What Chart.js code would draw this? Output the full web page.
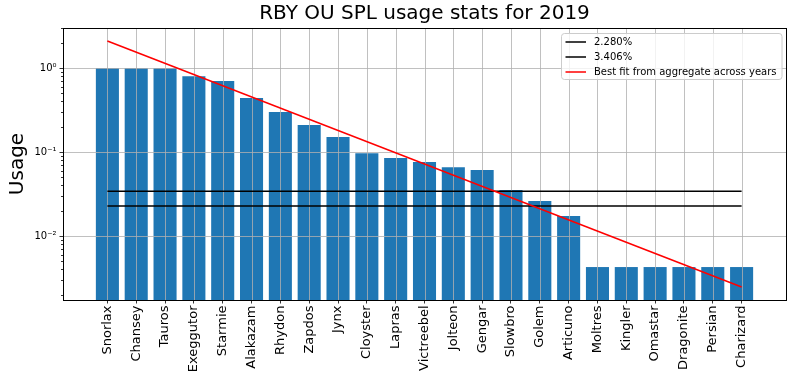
<!DOCTYPE html>
<html>
<head>
<meta charset="utf-8">
<script src="https://cdn.jsdelivr.net/npm/chart.js@4.4.1/dist/chart.umd.min.js"></script>
<style>
  body { margin: 0; background: #fff; }
  #wrap { width: 794px; height: 376px; position: relative; }
</style>
</head>
<body>
<div id="wrap"><canvas id="usage"></canvas></div>
<script>
// data
const pokemon = ['Snorlax', 'Chansey', 'Tauros', 'Exeggutor', 'Starmie', 'Alakazam', 'Rhydon', 'Zapdos',
  'Jynx', 'Cloyster', 'Lapras', 'Victreebel', 'Jolteon', 'Gengar', 'Slowbro', 'Golem', 'Articuno',
  'Moltres', 'Kingler', 'Omastar', 'Dragonite', 'Persian', 'Charizard'];
const usage = [1.0, 1.0, 1.0, 0.80, 0.70, 0.44, 0.30, 0.21, 0.151, 0.097, 0.085, 0.076, 0.066, 0.061,
  0.0353, 0.0261, 0.0173, 0.00427, 0.00427, 0.00427, 0.00427, 0.00427, 0.00427];
const thresholdLabels = ['2.280%', '3.406%'];
const thresholdValues = [0.02280, 0.03406];
const fitLabel = 'Best fit from aggregate across years';
const fitEnds = [2.10, 0.00247]; // fit line at first and last bar

const FONT = "'DejaVu Sans', sans-serif";
const last = pokemon.length - 1;

function isDecade(v) {
  const l = Math.log10(v);
  return Math.abs(l - Math.round(l)) < 1e-9;
}
function supText(n) {
  const map = { '-': '\u207B', '0': '\u2070', '1': '\u00B9', '2': '\u00B2', '3': '\u00B3' };
  return String(n).split('').map(c => map[c] || c).join('');
}

// grid above the bars but under the lines, like matplotlib
const gridOverBars = {
  id: 'gridOverBars',
  afterDatasetDraw(chart, args) {
    if (args.index !== 0) return;
    const { ctx, chartArea: a, scales } = chart;
    ctx.save();
    ctx.strokeStyle = '#b0b0b0';
    ctx.lineWidth = 0.8;
    ctx.beginPath();
    pokemon.forEach((_, i) => {
      const x = Math.round(scales.x.getPixelForValue(i)) + 0.5;
      ctx.moveTo(x, a.top); ctx.lineTo(x, a.bottom);
    });
    [1, 0.1, 0.01].forEach(v => {
      const y = Math.round(scales.y.getPixelForValue(v)) + 0.5;
      ctx.moveTo(a.left, y); ctx.lineTo(a.right, y);
    });
    ctx.stroke();
    ctx.restore();
  }
};

// frame, minor log ticks, title and legend box
const frameAndLegend = {
  id: 'frameAndLegend',
  afterDatasetsDraw(chart) {
    const { ctx, chartArea: a, scales } = chart;
    ctx.save();
    // minor ticks
    ctx.strokeStyle = '#000';
    ctx.lineWidth = 0.8;
    ctx.beginPath();
    for (let d = -3; d <= 0; d++) {
      for (let k = 2; k <= 9; k++) {
        const v = k * Math.pow(10, d);
        if (v < scales.y.min || v > scales.y.max) continue;
        const y = Math.round(scales.y.getPixelForValue(v)) + 0.5;
        ctx.moveTo(a.left - 2, y); ctx.lineTo(a.left, y);
      }
    }
    ctx.stroke();
    // frame
    ctx.strokeStyle = '#000';
    ctx.lineWidth = 1;
    ctx.strokeRect(Math.round(a.left) + 0.5, Math.round(a.top) + 0.5,
      Math.round(a.right - a.left), Math.round(a.bottom - a.top));

    // legend
    const fs = 10;
    ctx.font = fs + 'px ' + FONT;
    const items = chart.data.datasets.filter(ds => ds.type === 'line');
    const tw = Math.max(...items.map(ds => ctx.measureText(ds.label).width));
    const w = 33 + tw + 5;
    const h = 46;
    const x0 = Math.round(a.right - 4 - w);
    const y0 = Math.round(a.top + 5);
    ctx.beginPath();
    ctx.roundRect(x0 + 0.5, y0 + 0.5, w, h, 3);
    ctx.fillStyle = 'rgba(255,255,255,0.8)';
    ctx.fill();
    ctx.strokeStyle = '#cccccc';
    ctx.lineWidth = 1;
    ctx.stroke();
    items.forEach((ds, i) => {
      const y = y0 + 9 + i * 15;
      ctx.strokeStyle = ds.borderColor;
      ctx.lineWidth = 1.5;
      ctx.beginPath();
      ctx.moveTo(x0 + 4.5, y); ctx.lineTo(x0 + 25, y);
      ctx.stroke();
      ctx.fillStyle = '#000';
      ctx.textBaseline = 'middle';
      ctx.textAlign = 'left';
      ctx.fillText(ds.label, x0 + 33, y + 0.5);
    });
    ctx.restore();
  }
};

const datasets = [{
  type: 'bar',
  data: usage.map((v, i) => ({ x: i, y: v })),
  backgroundColor: '#1f77b4',
  barPercentage: 0.8,
  categoryPercentage: 1.0,
  order: 5
}];
thresholdValues.forEach((v, i) => {
  datasets.push({
    type: 'line',
    label: thresholdLabels[i],
    data: [{ x: 0, y: v }, { x: last, y: v }],
    borderColor: '#000000',
    borderWidth: 1.5,
    pointRadius: 0,
    order: 2
  });
});
datasets.push({
  type: 'line',
  label: fitLabel,
  data: [{ x: 0, y: fitEnds[0] }, { x: last, y: fitEnds[1] }],
  borderColor: '#ff0000',
  borderWidth: 1.5,
  pointRadius: 0,
  order: 1
});

Chart.defaults.font.family = FONT;
Chart.defaults.color = '#000';

new Chart(document.getElementById('usage'), {
  data: { datasets },
  options: {
    responsive: true,
    maintainAspectRatio: false,
    animation: false,
    layout: { padding: { left: 0, right: 8, top: 0, bottom: 0 } },
    plugins: {
      legend: { display: false },
      tooltip: { enabled: false },
      title: {
        display: true,
        fullSize: false,
        text: 'RBY OU SPL usage stats for 2019',
        color: '#000',
        font: { size: 20, weight: 'normal', family: FONT },
        padding: { top: 2, bottom: 2 }
      }
    },
    scales: {
      x: {
        type: 'linear',
        offset: false,
        min: -1.54,
        max: last + 1.54,
        afterBuildTicks: scale => { scale.ticks = pokemon.map((_, i) => ({ value: i })); },
        afterFit: scale => { scale.height = 76; },
        ticks: {
          autoSkip: false,
          minRotation: 90,
          maxRotation: 90,
          padding: 2,
          color: '#000',
          font: { size: 13, family: FONT },
          callback: v => pokemon[v]
        },
        grid: { offset: false, color: 'rgba(0,0,0,0)', tickColor: '#000', tickLength: 3.5, tickWidth: 0.8 },
        border: { display: true, color: '#000', width: 1 }
      },
      y: {
        type: 'logarithmic',
        min: 0.00173,
        max: 3.0,
        afterFit: scale => { scale.width = 63; },
        title: {
          display: true,
          text: 'Usage',
          color: '#000',
          font: { size: 20, family: FONT },
          padding: { top: 6, bottom: 0 }
        },
        ticks: {
          autoSkip: false,
          padding: 3,
          color: '#000',
          font: { size: 10, family: FONT },
          callback: v => isDecade(v) ? '10' + supText(Math.round(Math.log10(v))) : ''
        },
        grid: {
          color: 'rgba(0,0,0,0)',
          tickColor: c => (c.tick && isDecade(c.tick.value)) ? '#000' : 'rgba(0,0,0,0)',
          tickLength: 3.5,
          tickWidth: 0.8
        },
        border: { display: true, color: '#000', width: 1 }
      }
    }
  },
  plugins: [gridOverBars, frameAndLegend]
});
</script>
</body>
</html>
